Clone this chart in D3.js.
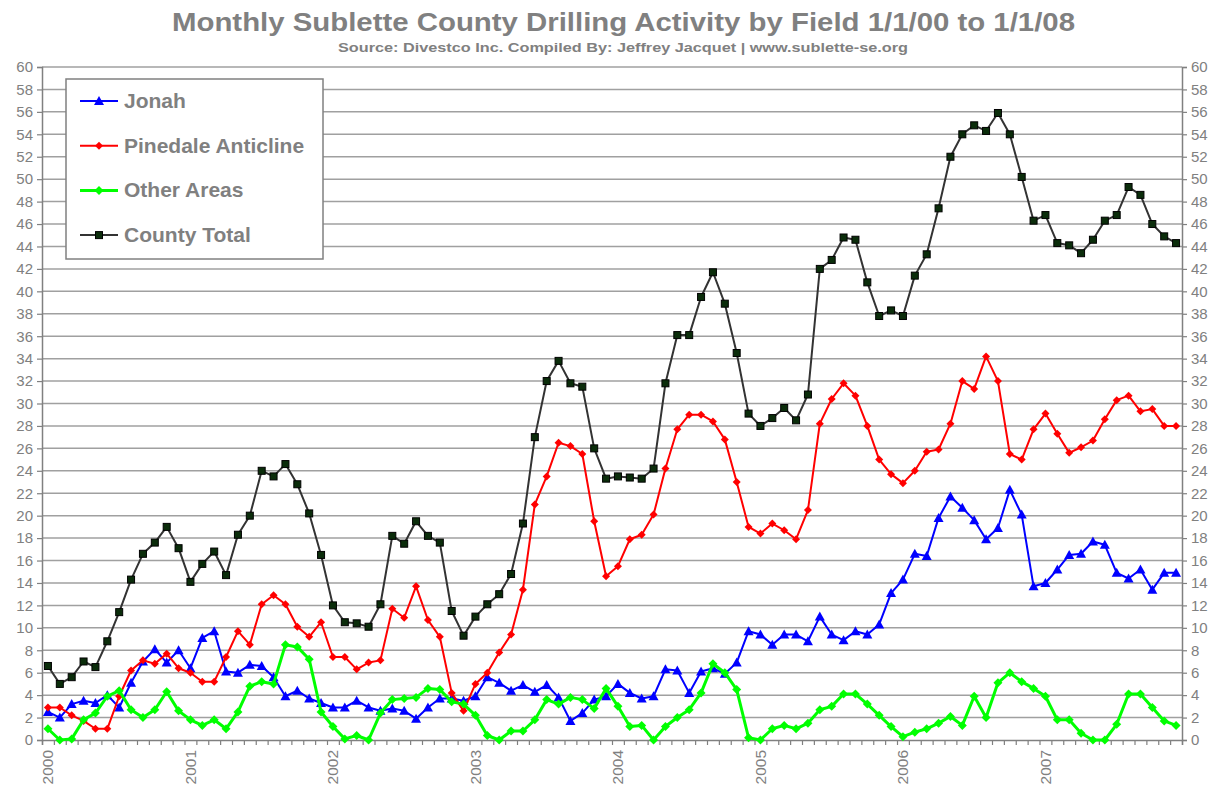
<!DOCTYPE html>
<html>
<head>
<meta charset="utf-8">
<script src="https://cdn.jsdelivr.net/npm/d3@7"></script>
<style>
  html, body { margin: 0; padding: 0; background: #ffffff; }
  svg { display: block; font-family: Arial, "Liberation Sans", sans-serif; }
</style>
</head>
<body>
<div id="chart"></div>
<script>
// Data: monthly values Jan 2000 .. Dec 2007
const years = ['2000', '2001', '2002', '2003', '2004', '2005', '2006', '2007'];
const yTicks = d3.range(0, 61, 2);

const jonah = [
  2.5, 2.0, 3.2, 3.5, 3.3, 4.0, 2.9, 5.1, 7.0, 8.1, 6.9, 8.0,
  6.4, 9.1, 9.7, 6.1, 6.0, 6.7, 6.6, 5.6, 3.9, 4.4, 3.7, 3.3,
  2.9, 2.9, 3.5, 2.9, 2.6, 2.8, 2.6, 1.9, 2.9, 3.7, 3.7, 3.5,
  3.9, 5.6, 5.1, 4.4, 4.9, 4.3, 4.9, 3.8, 1.7, 2.4, 3.6, 3.9,
  5.0, 4.2, 3.7, 3.9, 6.3, 6.2, 4.2, 6.1, 6.4, 5.9, 6.9, 9.7,
  9.4, 8.5, 9.4, 9.4, 8.8, 11.0, 9.4, 8.9, 9.7, 9.4, 10.3, 13.1,
  14.3, 16.6, 16.4, 19.8, 21.7, 20.7, 19.6, 17.9, 18.9, 22.3, 20.1, 13.7,
  14.0, 15.2, 16.5, 16.6, 17.7, 17.4, 14.9, 14.4, 15.2, 13.4, 14.9, 14.9
];

const pinedale = [
  2.9, 2.9, 2.2, 1.7, 1.0, 1.0, 3.9, 6.2, 7.1, 6.8, 7.7, 6.4,
  6.0, 5.2, 5.2, 7.4, 9.7, 8.5, 12.1, 12.9, 12.1, 10.1, 9.2, 10.5,
  7.4, 7.4, 6.3, 6.9, 7.1, 11.7, 10.9, 13.7, 10.7, 9.2, 4.2, 2.6,
  5.0, 6.0, 7.8, 9.4, 13.4, 21.0, 23.5, 26.5, 26.2, 25.5, 19.5, 14.6,
  15.5, 17.9, 18.3, 20.1, 24.2, 27.7, 29.0, 29.0, 28.4, 26.8, 23.0, 19.0,
  18.4, 19.3, 18.7, 17.9, 20.5, 28.2, 30.4, 31.8, 30.7, 28.0, 25.0, 23.7,
  22.9, 24.0, 25.7, 25.9, 28.2, 32.0, 31.3, 34.2, 32.0, 25.5, 25.0, 27.7,
  29.1, 27.3, 25.6, 26.1, 26.7, 28.6, 30.3, 30.7, 29.3, 29.5, 28.0, 28.0
];

const otherAreas = [
  1.0, 0.0, 0.1, 1.8, 2.4, 3.9, 4.4, 2.7, 2.0, 2.7, 4.3, 2.6,
  1.8, 1.3, 1.8, 1.0, 2.5, 4.8, 5.2, 5.0, 8.5, 8.3, 7.2, 2.5,
  1.2, 0.1, 0.4, 0.0, 2.4, 3.6, 3.7, 3.8, 4.6, 4.5, 3.4, 3.2,
  2.2, 0.4, 0.0, 0.8, 0.8, 1.8, 3.6, 3.2, 3.8, 3.6, 2.8, 4.6,
  3.0, 1.2, 1.3, 0.0, 1.2, 2.0, 2.7, 4.2, 6.8, 6.0, 4.5, 0.2,
  0.0, 1.0, 1.3, 1.0, 1.5, 2.7, 3.0, 4.1, 4.1, 3.2, 2.2, 1.2,
  0.3, 0.7, 1.0, 1.5, 2.1, 1.3, 3.9, 2.0, 5.1, 6.0, 5.2, 4.6,
  3.9, 1.8, 1.8, 0.6, 0.0, 0.0, 1.4, 4.1, 4.1, 2.9, 1.7, 1.3
];

const countyTotal = [
  6.6, 5.0, 5.6, 7.0, 6.5, 8.8, 11.4, 14.3, 16.6, 17.6, 19.0, 17.1,
  14.1, 15.7, 16.8, 14.7, 18.3, 20.0, 24.0, 23.5, 24.6, 22.8, 20.2, 16.5,
  12.0, 10.5, 10.4, 10.1, 12.1, 18.2, 17.5, 19.5, 18.2, 17.6, 11.5, 9.3,
  11.0, 12.1, 13.0, 14.8, 19.3, 27.0, 32.0, 33.8, 31.8, 31.5, 26.0, 23.3,
  23.5, 23.4, 23.3, 24.2, 31.8, 36.1, 36.1, 39.5, 41.7, 38.9, 34.5, 29.1,
  28.0, 28.7, 29.6, 28.5, 30.8, 42.0, 42.8, 44.8, 44.6, 40.8, 37.8, 38.3,
  37.8, 41.4, 43.3, 47.4, 52.0, 54.0, 54.8, 54.3, 55.9, 54.0, 50.2, 46.3,
  46.8, 44.3, 44.1, 43.4, 44.6, 46.3, 46.8, 49.3, 48.6, 46.0, 44.9, 44.3
];

const seriesNames = ['Jonah', 'Pinedale Anticline', 'Other Areas', 'County Total'];

const series = [
  { name: seriesNames[0], values: jonah, color: '#0000ff', width: 2, marker: 'triangle' },
  { name: seriesNames[1], values: pinedale, color: '#ff0000', width: 2, marker: 'diamond' },
  { name: seriesNames[2], values: otherAreas, color: '#00ff00', width: 3, marker: 'diamondBig' },
  { name: seriesNames[3], values: countyTotal, color: '#333333', width: 2, marker: 'square' }
];

const W = 1219, H = 792;
const M = { left: 42, right: 1182, top: 67, bottom: 740 };
const gray = '#808080';

const svg = d3.select('#chart').append('svg')
  .attr('width', W)
  .attr('height', H);

const nMonths = jonah.length;
const x = d3.scaleLinear().domain([0, nMonths]).range([M.left, M.right]);
const y = d3.scaleLinear().domain([0, 60]).range([M.bottom, M.top]);

// Title (stretched a bit, like the original export)
svg.append('text')
  .attr('x', 172).attr('y', 31)
  .attr('textLength', 903)
  .attr('lengthAdjust', 'spacingAndGlyphs')
  .style('font-size', '25px').style('font-weight', 'bold')
  .style('fill', gray)
  .text('Monthly Sublette County Drilling Activity by Field 1/1/00 to 1/1/08');

svg.append('text')
  .attr('x', 338).attr('y', 52)
  .attr('textLength', 570)
  .attr('lengthAdjust', 'spacingAndGlyphs')
  .style('font-size', '13px').style('font-weight', 'bold')
  .style('fill', gray)
  .text('Source: Divestco Inc.  Compiled By: Jeffrey Jacquet | www.sublette-se.org');

// Gridlines
svg.append('g')
  .selectAll('line')
  .data(yTicks.filter(d => d > 0))
  .enter().append('line')
  .attr('x1', M.left).attr('x2', M.right)
  .attr('y1', d => y(d)).attr('y2', d => y(d))
  .attr('stroke', '#a0a0a0')
  .attr('stroke-width', 1.5);

// Left axis
const leftAxis = svg.append('g')
  .attr('transform', `translate(${M.left},0)`)
  .call(d3.axisLeft(y).tickValues(yTicks).tickSize(5).tickPadding(4));

// Right axis
const rightAxis = svg.append('g')
  .attr('transform', `translate(${M.right},0)`)
  .call(d3.axisRight(y).tickValues(yTicks).tickSize(5).tickPadding(4));

// Bottom axis: one tick per month boundary
const bottomAxis = svg.append('g')
  .attr('transform', `translate(0,${M.bottom})`)
  .call(d3.axisBottom(x).tickValues(d3.range(nMonths + 1)).tickFormat('').tickSize(5));

[leftAxis, rightAxis, bottomAxis].forEach(g => {
  g.select('.domain').attr('stroke', gray).attr('stroke-width', 1.5);
  g.selectAll('.tick line').attr('stroke', gray).attr('stroke-width', 1.2);
  g.selectAll('.tick text')
    .style('font-size', '15px')
    .style('fill', gray)
    .style('font-family', 'Arial, "Liberation Sans", sans-serif');
});

// Year labels (rotated), centred on January of each year
svg.append('g')
  .selectAll('text')
  .data(years)
  .enter().append('text')
  .attr('transform', (d, i) => `translate(${x(i * 12 + 0.5) + 5.5},${M.bottom + 10}) rotate(-90)`)
  .attr('text-anchor', 'end')
  .style('font-size', '15.5px')
  .style('fill', gray)
  .text(d => d);

// Markers
function drawMarker(sel, type, color) {
  if (type === 'triangle') {
    sel.append('path')
      .attr('d', 'M0,-5L5,4L-5,4Z')
      .attr('fill', color);
  } else if (type === 'diamond') {
    sel.append('path')
      .attr('d', 'M0,-4L4,0L0,4L-4,0Z')
      .attr('fill', color);
  } else if (type === 'diamondBig') {
    sel.append('path')
      .attr('d', 'M0,-4.5L4.5,0L0,4.5L-4.5,0Z')
      .attr('fill', color);
  } else if (type === 'square') {
    sel.append('rect')
      .attr('x', -3.5).attr('y', -3.5)
      .attr('width', 7).attr('height', 7)
      .attr('fill', '#0b2d0b')
      .attr('stroke', '#000')
      .attr('stroke-width', 1);
  }
}

const line = d3.line()
  .x((d, i) => x(i + 0.5))
  .y(d => y(d));

series.forEach(s => {
  const g = svg.append('g');
  g.append('path')
    .datum(s.values)
    .attr('fill', 'none')
    .attr('stroke', s.color)
    .attr('stroke-width', s.width)
    .attr('stroke-linejoin', 'round')
    .attr('d', line);

  g.selectAll('g.pt')
    .data(s.values)
    .enter().append('g')
    .attr('class', 'pt')
    .attr('transform', (d, i) => `translate(${x(i + 0.5)},${y(d)})`)
    .each(function() { drawMarker(d3.select(this), s.marker, s.color); });
});

// Legend
const legend = svg.append('g').attr('transform', 'translate(66,79)');
legend.append('rect')
  .attr('width', 257).attr('height', 180)
  .attr('fill', '#fff')
  .attr('stroke', gray)
  .attr('stroke-width', 1.5);

series.forEach((s, i) => {
  const row = legend.append('g').attr('transform', `translate(0,${22 + i * 44.7})`);
  row.append('line')
    .attr('x1', 14).attr('x2', 52)
    .attr('stroke', s.color)
    .attr('stroke-width', s.width);
  const m = row.append('g').attr('transform', 'translate(33,0)');
  drawMarker(m, s.marker, s.color);
  row.append('text')
    .attr('x', 58).attr('y', 7)
    .style('font-size', '21px')
    .style('font-weight', 'bold')
    .style('fill', gray)
    .text(s.name);
});
</script>
</body>
</html>
